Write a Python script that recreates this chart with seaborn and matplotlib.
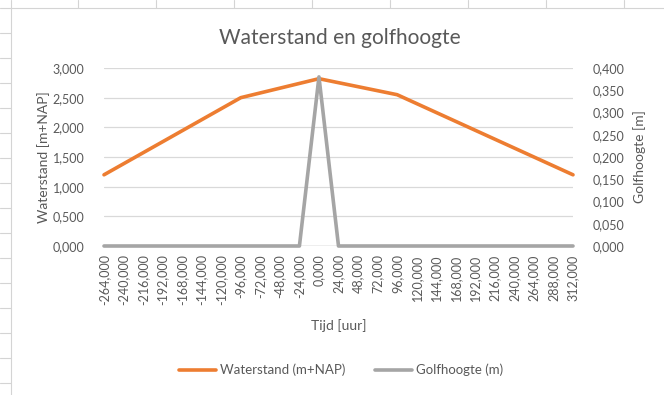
import matplotlib
matplotlib.use("Agg")
import matplotlib.pyplot as plt
from matplotlib.lines import Line2D
from matplotlib.ticker import FuncFormatter
import pandas as pd
import seaborn as sns

# Waterstand (m+NAP) breakpoints over time (hours)
tijd_water = [-264, -96, 0, 96, 312]
waterstand = [1.20, 2.50, 2.82, 2.55, 1.20]

# Golfhoogte (m) breakpoints over time (hours)
tijd_golf = [-264, -24, 0, 24, 312]
golfhoogte = [0.0, 0.0, 0.38, 0.0, 0.0]

x_ticks = list(range(-264, 313, 24))
left_ticks = [0.0, 0.5, 1.0, 1.5, 2.0, 2.5, 3.0]
right_ticks = [0.0, 0.05, 0.10, 0.15, 0.20, 0.25, 0.30, 0.35, 0.40]

title = "Waterstand en golfhoogte"
xlabel = "Tijd [uur]"
ylabel_left = "Waterstand [m+NAP]"
ylabel_right = "Golfhoogte [m]"
label_water = "Waterstand (m+NAP)"
label_golf = "Golfhoogte (m)"

ORANGE = "#ED7D31"
GREY = "#A5A5A5"
TEXT = "#595959"
GRID = "#D9D9D9"

sns.set_theme(style="white")
plt.rcParams["font.family"] = ["Lato", "DejaVu Sans"]

df_water = pd.DataFrame({"tijd": tijd_water, "waarde": waterstand})
df_golf = pd.DataFrame({"tijd": tijd_golf, "waarde": golfhoogte})

fig = plt.figure(figsize=(6.64, 3.95), dpi=100)

# spreadsheet cell borders around the embedded chart
W, H = 664, 395
cell = "#D4D4D4"
fig.add_artist(Line2D([10.5 / W, 10.5 / W], [0, 1], color=cell, lw=0.8, transform=fig.transFigure))
fig.add_artist(Line2D([0, 1], [1 - 7.5 / H, 1 - 7.5 / H], color=cell, lw=0.8, transform=fig.transFigure))
for yr in range(33, 395, 25):
    fig.add_artist(Line2D([0, 10.5 / W], [1 - yr / H, 1 - yr / H], color=cell, lw=0.8,
                          transform=fig.transFigure))
for xc in range(78, 664, 78):
    fig.add_artist(Line2D([xc / W, xc / W], [1 - 7.5 / H, 1], color=cell, lw=0.8,
                          transform=fig.transFigure))

ax = fig.add_axes([104 / W, 1 - 246 / H, (573 - 104) / W, (246 - 68) / H])
ax2 = ax.twinx()

sns.lineplot(data=df_water, x="tijd", y="waarde", ax=ax, color=ORANGE, lw=2.6,
             label=label_water, legend=False)
sns.lineplot(data=df_golf, x="tijd", y="waarde", ax=ax2, color=GREY, lw=2.6,
             label=label_golf, legend=False)
for a in (ax, ax2):
    for ln in a.get_lines():
        ln.set_clip_on(False)

dec = lambda v, _: f"{v:.3f}".replace(".", ",")

ax.set_xlim(-264, 312)
ax.set_ylim(0, 3.0)
ax2.set_ylim(0, 0.4)
ax.set_xticks(x_ticks)
ax.set_yticks(left_ticks)
ax2.set_yticks(right_ticks)
ax.xaxis.set_major_formatter(FuncFormatter(dec))
ax.yaxis.set_major_formatter(FuncFormatter(dec))
ax2.yaxis.set_major_formatter(FuncFormatter(dec))

ax.grid(axis="y", color=GRID, lw=0.9)
ax.set_axisbelow(True)
for a in (ax, ax2):
    for s in ("top", "left", "right", "bottom"):
        a.spines[s].set_visible(False)
    a.tick_params(length=0, colors=TEXT, labelsize=9)
ax.axhline(0, color="#BFBFBF", lw=1.0, zorder=1)
ax.tick_params(axis="x", labelrotation=90, pad=6)
ax.tick_params(axis="y", pad=14)
ax2.tick_params(axis="y", pad=14)

ax.set_xlabel(xlabel, color=TEXT, fontsize=10, labelpad=10)
ax.set_ylabel(ylabel_left, color=TEXT, fontsize=10, labelpad=2)
ax2.set_ylabel(ylabel_right, color=TEXT, fontsize=10, labelpad=6)

fig.text(340 / W, 1 - 38 / H, title, ha="center", va="center", fontsize=15, color=TEXT)

handles = [Line2D([], [], color=ORANGE, lw=2.6), Line2D([], [], color=GREY, lw=2.6)]
fig.legend(handles, [label_water, label_golf], loc="center", bbox_to_anchor=(341 / W, 1 - 370 / H),
           ncol=2, frameon=False, fontsize=9.5, handlelength=2.8, handletextpad=0.3,
           columnspacing=2.2, labelcolor=TEXT)

fig.savefig("out.png", dpi=100)
